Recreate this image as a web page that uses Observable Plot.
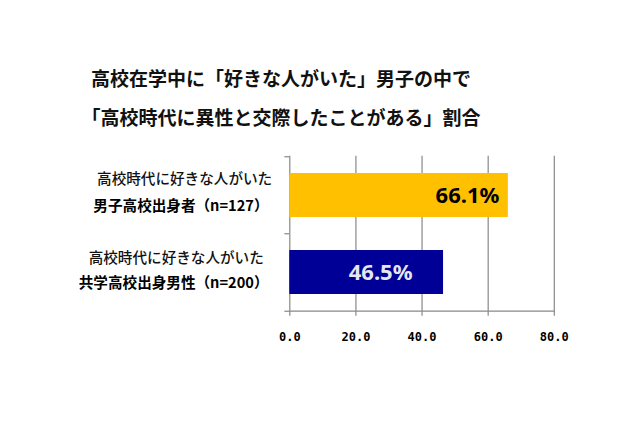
<!DOCTYPE html>
<html>
<head>
<meta charset="utf-8">
<script src="https://cdn.jsdelivr.net/npm/d3@7"></script>
<script src="https://cdn.jsdelivr.net/npm/@observablehq/plot@0.6"></script>
<style>
  html, body { margin: 0; padding: 0; background: #fff; }
  #wrap { width: 640px; height: 426px; position: relative; overflow: hidden; }
  #title { position: absolute; left: 0; top: 0; width: 562px; text-align: center;
    font-family: "Noto Sans CJK JP", sans-serif; font-weight: bold; font-size: 19px;
    color: #111; }
  #title div { position: absolute; left: 0; width: 100%; line-height: 24px; }
  #chart { position: absolute; left: 0; top: 140px; }
</style>
</head>
<body>
<div id="wrap">
  <div id="title">
    <div style="top:66px">高校在学中に「好きな人がいた」男子の中で</div>
    <div style="top:105px">「高校時代に異性と交際したことがある」割合</div>
  </div>
  <div id="chart"></div>
</div>
<script>
const labelLine1 = ["高校時代に好きな人がいた", "高校時代に好きな人がいた"];
const labelLine2 = ["男子高校出身者（n=127）", "共学高校出身男性（n=200）"];
const values = [66.1, 46.5];
const valueLabels = ["66.1%", "46.5%"];
const barColors = ["#FFC000", "#000096"];
const xTicks = [0, 20, 40, 60, 80];

const data = labelLine2.map((name, i) => ({
  name, line1: labelLine1[i], value: values[i], label: valueLabels[i], color: barColors[i]
}));

const font = "'Noto Sans CJK JP', sans-serif";
const grid = "#888";
const half = 38.75;

const chart = Plot.plot({
  width: 640,
  height: 286,
  marginTop: 15.7,
  marginBottom: 115.3,
  marginLeft: 289.3,
  marginRight: 86.2,
  style: { background: "transparent", overflow: "visible" },
  x: { domain: [0, 80], label: null },
  y: { domain: labelLine2, paddingInner: 0.43, paddingOuter: 0.215, axis: null },
  color: { type: "identity" },
  marks: [
    Plot.ruleX(xTicks, { stroke: grid, strokeWidth: 1.2 }),
    Plot.axisX({ ticks: xTicks, tickFormat: d3.format(".1f"), tickSize: 5, tickPadding: 16,
      stroke: grid, strokeWidth: 1.2, fill: "#000", fontSize: 12, fontWeight: "bold",
      fontFamily: "'DejaVu Sans Mono', monospace", label: null }),
    Plot.frame({ anchor: "bottom", stroke: grid, strokeWidth: 1.2 }),
    Plot.ruleY(data, { y: "name", x1: -1.5, x2: 0, dy: -half, stroke: grid, strokeWidth: 1.2 }),
    Plot.ruleY(data.slice(-1), { y: "name", x1: -1.5, x2: 0, dy: half, stroke: grid, strokeWidth: 1.2 }),
    Plot.barX(data, { x: "value", y: "name", fill: "color" }),
    Plot.text(data.slice(0, 1), { x: "value", y: "name", text: "label", textAnchor: "end", dx: -9,
      fill: "#000", fontSize: 22, fontWeight: "bold", fontFamily: "'Noto Sans', sans-serif" }),
    Plot.text(data.slice(1), { x: "value", y: "name", text: "label", textAnchor: "end", dx: -31,
      fill: "#e6e6ee", fontSize: 22, fontWeight: "bold", fontFamily: "'Noto Sans', sans-serif" }),
    Plot.text(data.slice(0, 1), { x: 0, y: "name", text: "line1", textAnchor: "end", dx: -17.6, dy: -16,
      fill: "#111", fontSize: 14.6, fontWeight: 500, fontFamily: font }),
    Plot.text(data.slice(1), { x: 0, y: "name", text: "line1", textAnchor: "end", dx: -26, dy: -14,
      fill: "#111", fontSize: 14.6, fontWeight: 500, fontFamily: font }),
    Plot.text(data, { x: 0, y: "name", text: "name", textAnchor: "end", dx: -21.3, dy: 11,
      fill: "#000", fontSize: 14.6, fontWeight: "bold", fontFamily: font })
  ]
});
document.getElementById("chart").appendChild(chart);
</script>
</body>
</html>
